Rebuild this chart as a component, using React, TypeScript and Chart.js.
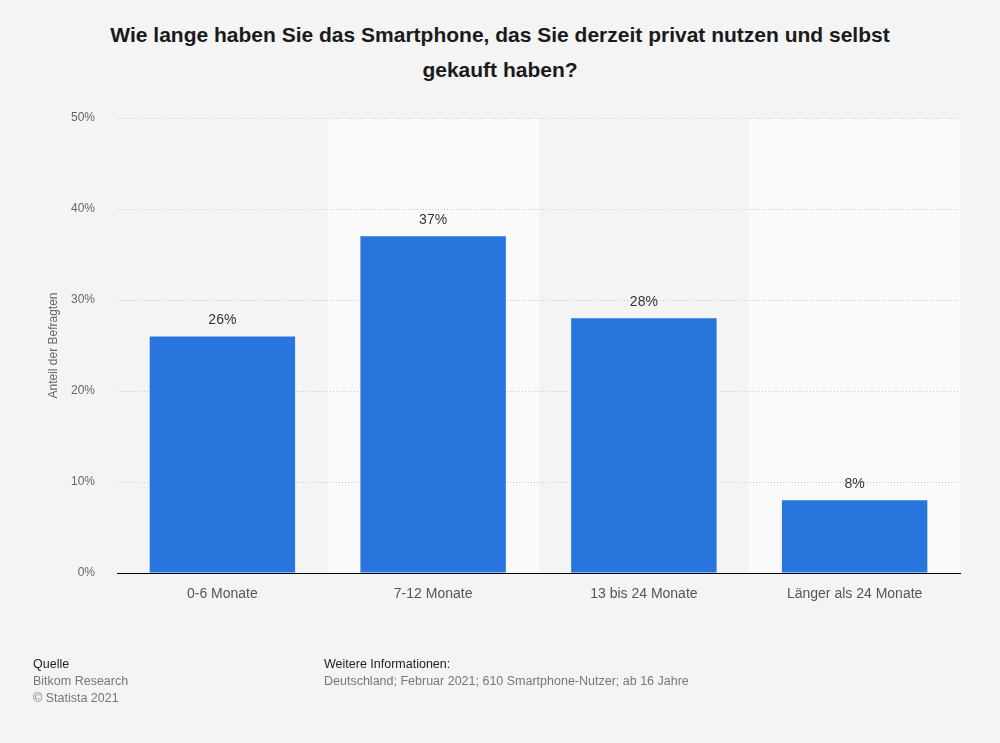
import React, { useEffect, useRef } from "react";
import { Chart, registerables } from "chart.js";

Chart.register(...registerables);

const categories = ["0-6 Monate", "7-12 Monate", "13 bis 24 Monate", "Länger als 24 Monate"];
const values = [26, 37, 28, 8];
const yTicks = [0, 10, 20, 30, 40, 50];

const titleLines = [
  "Wie lange haben Sie das Smartphone, das Sie derzeit privat nutzen und selbst",
  "gekauft haben?",
];

const FONT = "'Liberation Sans', Arial, Helvetica, sans-serif";

const bandPlugin = {
  id: "bands",
  beforeDraw(chart: any) {
    const { ctx, chartArea, scales } = chart;
    const x = scales.x;
    const n = categories.length;
    const w = (chartArea.right - chartArea.left) / n;
    ctx.save();
    ctx.fillStyle = "#fafafa";
    for (let i = 0; i < n; i++) {
      if (i % 2 === 1) {
        const cx = x.getPixelForValue(i);
        ctx.fillRect(cx - w / 2, chartArea.top, w, chartArea.bottom - chartArea.top);
      }
    }
    ctx.restore();
  },
};

const labelPlugin = {
  id: "valueLabels",
  afterDatasetsDraw(chart: any) {
    const { ctx } = chart;
    const meta = chart.getDatasetMeta(0);
    ctx.save();
    ctx.fillStyle = "#333333";
    ctx.font = `14px ${FONT}`;
    ctx.textAlign = "center";
    ctx.textBaseline = "middle";
    meta.data.forEach((bar: any, i: number) => {
      ctx.fillText(values[i] + "%", bar.x, bar.y - 16);
    });
    ctx.restore();
  },
};

export default function App() {
  const ref = useRef<HTMLCanvasElement | null>(null);

  useEffect(() => {
    if (!ref.current) return;
    const chart = new Chart(ref.current, {
      type: "bar",
      data: {
        labels: categories,
        datasets: [
          {
            data: values,
            backgroundColor: "#2876dd",
            borderWidth: 0,
            barPercentage: 0.69,
            categoryPercentage: 1,
          },
        ],
      },
      options: {
        animation: false,
        responsive: false,
        maintainAspectRatio: false,
        layout: { padding: { top: 118, right: 40, left: 46, bottom: 0 } },
        plugins: {
          legend: { display: false },
          tooltip: { enabled: false },
          title: { display: false },
        },
        scales: {
          x: {
            grid: { display: false, drawTicks: false },
            border: { display: true, color: "#000000", width: 1 },
            ticks: {
              color: "#555555",
              font: { family: FONT, size: 14 },
              padding: 13,
              maxRotation: 0,
            },
            afterFit(scale: any) {
              scale.height = 743 - 573;
            },
          },
          y: {
            min: 0,
            max: 50,
            afterBuildTicks(scale: any) {
              scale.ticks = yTicks.map((v) => ({ value: v }));
            },
            grid: {
              color: (c: any) => (c.tick && c.tick.value === 0 ? "rgba(0,0,0,0)" : "#c8c8c8"),
              drawTicks: false,
              lineWidth: 1,
            },
            border: { display: false, dash: [1, 2] },
            ticks: {
              color: "#666666",
              font: { family: FONT, size: 12 },
              padding: 22,
              callback: (v: any) => v + "%",
            },
            title: {
              display: true,
              text: "Anteil der Befragten",
              color: "#666666",
              font: { family: FONT, size: 12 },
              padding: { top: 0, bottom: 0 },
            },
            afterFit(scale: any) {
              scale.width = 117 - 46;
            },
          },
        },
      },
      plugins: [bandPlugin, labelPlugin],
    } as any);
    return () => chart.destroy();
  }, []);

  return (
    <div
      style={{
        position: "fixed",
        left: 0,
        top: 0,
        width: 1000,
        height: 743,
        background: "#f4f4f4",
        fontFamily: FONT,
        overflow: "hidden",
      }}
    >
      <div
        style={{
          position: "absolute",
          left: 0,
          top: 17,
          width: 1000,
          textAlign: "center",
          fontWeight: "bold",
          fontSize: 21,
          lineHeight: "35px",
          color: "#1a1a1a",
        }}
      >
        {titleLines.map((l, i) => (
          <div key={i}>{l}</div>
        ))}
      </div>
      <canvas
        ref={ref}
        width={1000}
        height={743}
        style={{ position: "absolute", left: 0, top: 0, width: 1000, height: 743 }}
      />
      <div style={{ position: "absolute", left: 33, top: 656, fontSize: 12.5, lineHeight: "17px" }}>
        <div style={{ color: "#222" }}>Quelle</div>
        <div style={{ color: "#777" }}>Bitkom Research</div>
        <div style={{ color: "#777" }}>© Statista 2021</div>
      </div>
      <div style={{ position: "absolute", left: 324, top: 656, fontSize: 12.5, lineHeight: "17px" }}>
        <div style={{ color: "#222" }}>Weitere Informationen:</div>
        <div style={{ color: "#777" }}>Deutschland; Februar 2021; 610 Smartphone-Nutzer; ab 16 Jahre</div>
      </div>
    </div>
  );
}
